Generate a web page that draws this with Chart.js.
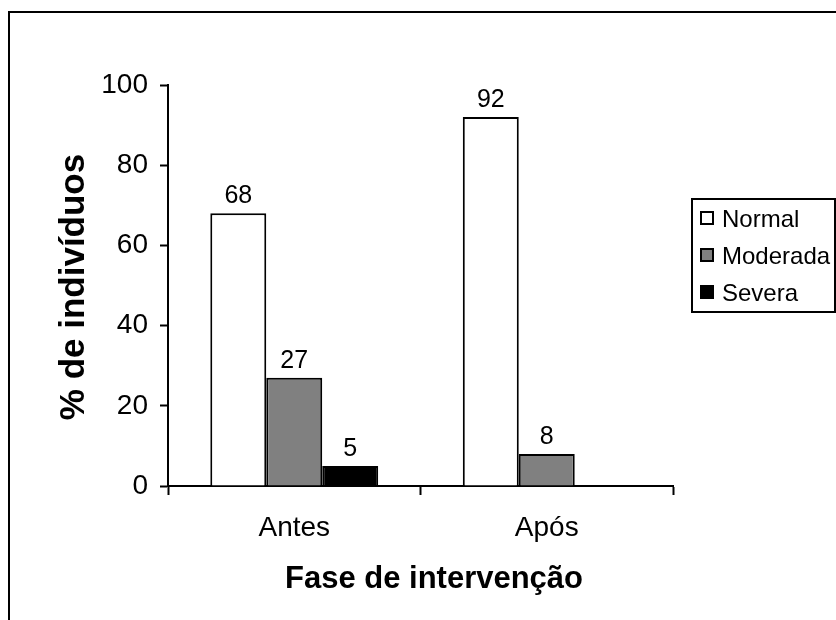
<!DOCTYPE html>
<html>
<head>
<meta charset="utf-8">
<script src="https://cdn.jsdelivr.net/npm/chart.js@4/dist/chart.umd.min.js"></script>
<style>
  html, body { margin: 0; padding: 0; background: #fff; }
  #wrap { width: 836px; height: 620px; }
</style>
</head>
<body>
<div id="wrap"><canvas id="c" width="836" height="620"></canvas></div>
<script>
// Categories, series and tick labels
const categories = ['Antes', 'Após'];
const seriesNames = ['Normal', 'Moderada', 'Severa'];
const normal = [68, 92];
const moderada = [27, 8];
const severa = [5, 0];
const yTicks = [0, 20, 40, 60, 80, 100];
const xTitle = 'Fase de intervenção';
const yTitle = '% de indivíduos';

const FONT = '"Liberation Sans", Arial, Helvetica, sans-serif';
const fills = ['#ffffff', '#808080', '#000000'];

// Outer frame, axis titles, legend and value labels above the bars
const decorations = {
  id: 'decorations',
  beforeDraw(chart) {
    const ctx = chart.ctx;
    ctx.save();
    ctx.fillStyle = '#fff';
    ctx.fillRect(0, 0, chart.width, chart.height);
    ctx.restore();
  },
  afterDatasetsDraw(chart) {
    const ctx = chart.ctx;
    ctx.save();
    ctx.fillStyle = '#000';
    ctx.font = '25px ' + FONT;
    ctx.textAlign = 'center';
    ctx.textBaseline = 'alphabetic';
    chart.data.datasets.forEach((ds, i) => {
      const meta = chart.getDatasetMeta(i);
      meta.data.forEach((bar, j) => {
        const v = ds.data[j];
        if (v > 0) ctx.fillText(String(v), bar.x, bar.y - 10);
      });
    });
    ctx.restore();
  },
  afterDraw(chart) {
    const ctx = chart.ctx;
    ctx.save();
    // frame
    ctx.strokeStyle = '#000';
    ctx.lineWidth = 2;
    ctx.strokeRect(9, 12, 900, 700);

    // axis titles
    ctx.fillStyle = '#000';
    ctx.font = 'bold 31px ' + FONT;
    ctx.textAlign = 'center';
    ctx.textBaseline = 'alphabetic';
    ctx.fillText(xTitle, 434, 588);

    ctx.font = 'bold 35px ' + FONT;
    ctx.translate(84, 287);
    ctx.rotate(-Math.PI / 2);
    ctx.fillText(yTitle, 0, 0);
    ctx.restore();

    // legend
    ctx.save();
    ctx.strokeStyle = '#000';
    ctx.lineWidth = 2;
    ctx.strokeRect(692, 199, 143, 113);
    const rows = [218, 255, 292];
    ctx.font = '24px ' + FONT;
    ctx.textAlign = 'left';
    ctx.textBaseline = 'middle';
    chart.data.datasets.forEach((ds, i) => {
      const cy = rows[i];
      ctx.fillStyle = ds.backgroundColor;
      ctx.fillRect(701, cy - 6, 12, 12);
      ctx.strokeRect(701, cy - 6, 12, 12);
      ctx.fillStyle = '#000';
      ctx.fillText(ds.label, 722, cy + 2);
    });
    ctx.restore();
  }
};

const seriesValues = [normal, moderada, severa];

new Chart(document.getElementById('c'), {
  type: 'bar',
  data: {
    labels: categories,
    datasets: seriesNames.map((name, i) => ({
      label: name,
      data: seriesValues[i],
      backgroundColor: fills[i],
      borderColor: '#000',
      borderWidth: 2,
      categoryPercentage: 0.665,
      barPercentage: 1.0
    }))
  },
  options: {
    responsive: false,
    animation: false,
    devicePixelRatio: 1,
    layout: { padding: { left: 0, top: 85, right: 163, bottom: 0 } },
    plugins: {
      legend: { display: false },
      tooltip: { enabled: false },
      title: { display: false }
    },
    scales: {
      x: {
        offset: true,
        grid: {
          offset: true,
          drawOnChartArea: false,
          drawTicks: true,
          tickLength: 9,
          tickColor: '#000',
          tickWidth: 2
        },
        border: { color: '#000', width: 2 },
        ticks: {
          color: '#000',
          font: { family: FONT, size: 28 },
          padding: 16,
          maxRotation: 0
        },
        afterFit(scale) { scale.height = 620 - 486; }
      },
      y: {
        min: 0,
        max: 100,
        grid: {
          drawOnChartArea: false,
          drawTicks: true,
          tickLength: 8,
          tickColor: '#000',
          tickWidth: 2
        },
        border: { color: '#000', width: 2 },
        ticks: {
          color: '#000',
          font: { family: FONT, size: 28 },
          padding: 12
        },
        afterBuildTicks(scale) {
          scale.ticks = yTicks.map(v => ({ value: v }));
        },
        afterFit(scale) { scale.width = 168; }
      }
    }
  },
  plugins: [decorations]
});
</script>
</body>
</html>
